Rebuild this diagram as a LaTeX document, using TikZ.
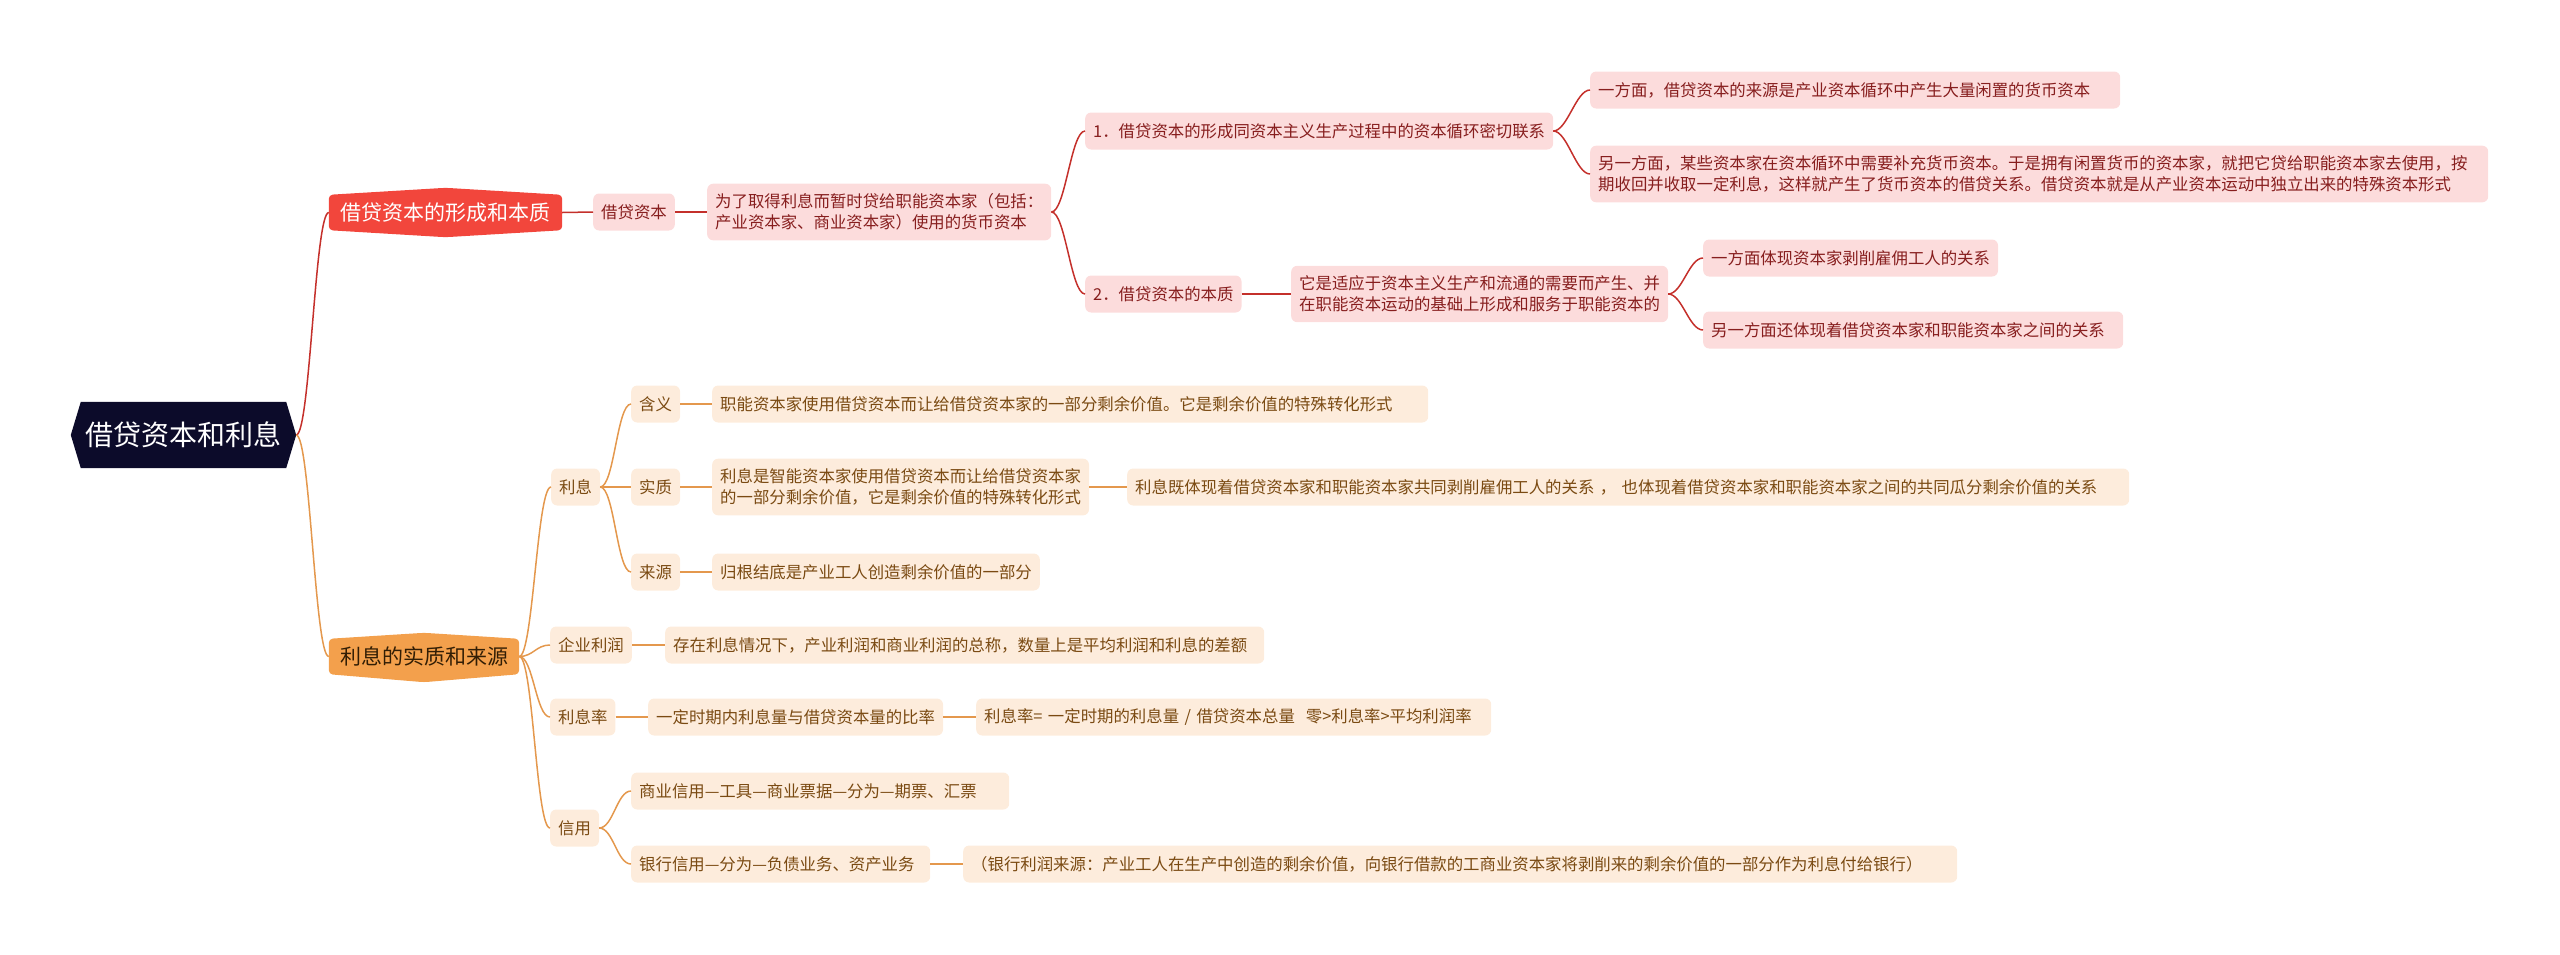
\documentclass[tikz,border=0pt]{standalone}
\usepackage{fontspec}
\setmainfont{Noto Sans CJK SC}
\usetikzlibrary{calc, backgrounds}
\definecolor{RootNavy}{RGB}{12,11,42}
\definecolor{MainRed}{RGB}{242,70,60}
\definecolor{PinkFill}{RGB}{252,220,220}
\definecolor{PinkText}{RGB}{135,30,30}
\definecolor{RedLine}{RGB}{196,48,43}
\definecolor{MainOrange}{RGB}{243,160,76}
\definecolor{OrangeText}{RGB}{50,30,5}
\definecolor{PeachFill}{RGB}{253,236,220}
\definecolor{BrownText}{RGB}{122,74,18}
\definecolor{OrangeLine}{RGB}{228,152,77}

\tikzset{
  rootbox/.style={text=white, font=\fontsize{28}{32}\selectfont, minimum width=225pt, minimum height=66pt, inner sep=0pt},
  mainbox/.style={font=\fontsize{21}{24}\selectfont, minimum height=35pt, inner xsep=0pt, inner ysep=0pt},
  leaf/.style={anchor=west, rounded corners=6pt, font=\fontsize{16.4}{21}\selectfont, align=left, inner xsep=8pt, inner ysep=10pt, minimum height=37pt},
  pinkleaf/.style={leaf, fill=PinkFill, text=PinkText},
  peachleaf/.style={leaf, fill=PeachFill, text=BrownText},
  wide/.style={text width=#1},
  redlink/.style={RedLine, line width=1.5pt},
  orangelink/.style={OrangeLine, line width=1.5pt},
  curvelink/.style={to path={.. controls +(14,0) and +(-14,0) .. (\tikztotarget)}}
}

\begin{document}
\begin{tikzpicture}[x=1pt, y=-1pt]
  \useasboundingbox (0,0) rectangle (2560,954);

  % Root and main topics
  \node[rootbox] (root) at (183.5,435) {借贷资本和利息};
  \node[mainbox, text=white, minimum width=233pt] (form) at (445.5,212.5) {借贷资本的形成和本质};
  \node[mainbox, text=OrangeText, minimum width=190pt] (essence) at (424,656.5) {利息的实质和来源};

  \begin{scope}[on background layer]
    \fill[RootNavy] ($(root.north west)+(10,0)$) -- ($(root.north east)+(-10,0)$) -- (root.east)
      -- ($(root.south east)+(-10,0)$) -- ($(root.south west)+(10,0)$) -- (root.west) -- cycle;
    \fill[MainRed, rounded corners=4pt] (form.north west) -- ($(form.north)+(0,-7)$) -- (form.north east)
      -- (form.south east) -- ($(form.south)+(0,7)$) -- (form.south west) -- cycle;
    \fill[MainOrange, rounded corners=4pt] (essence.north west) -- ($(essence.north)+(0,-6)$) -- (essence.north east)
      -- (essence.south east) -- ($(essence.south)+(0,8)$) -- (essence.south west) -- cycle;
  \end{scope}

  % Formation branch
  \node[pinkleaf] (loan) at (593,212) {借贷资本};
  \node[pinkleaf] (loandef) at (707,212) {为了取得利息而暂时贷给职能资本家（包括：\\产业资本家、商业资本家）使用的货币资本};
  \node[pinkleaf] (point1) at (1085,131) {1．借贷资本的形成同资本主义生产过程中的资本循环密切联系};
  \node[pinkleaf] (point2) at (1085,294) {2．借贷资本的本质};
  \node[pinkleaf, wide=514pt] (source) at (1590,90) {一方面，借贷资本的来源是产业资本循环中产生大量闲置的货币资本};
  \node[pinkleaf, wide=882pt] (demand) at (1590,174) {另一方面，某些资本家在资本循环中需要补充货币资本。于是拥有闲置货币的资本家，就把它贷给职能资本家去使用，按\\期收回并收取一定利息，这样就产生了货币资本的借贷关系。借贷资本就是从产业资本运动中独立出来的特殊资本形式};
  \node[pinkleaf] (adapt) at (1291,294) {它是适应于资本主义生产和流通的需要而产生、并\\在职能资本运动的基础上形成和服务于职能资本的};
  \node[pinkleaf] (exploit) at (1703,258) {一方面体现资本家剥削雇佣工人的关系};
  \node[pinkleaf, wide=404pt] (between) at (1703,330) {另一方面还体现着借贷资本家和职能资本家之间的关系};

  % Interest branch
  \node[peachleaf] (interest) at (551,487) {利息};
  \node[peachleaf] (meaning) at (631,404) {含义};
  \node[peachleaf] (nature) at (631,487) {实质};
  \node[peachleaf] (origin) at (631,572) {来源};
  \node[peachleaf, wide=700pt] (meaningtxt) at (712,404) {职能资本家使用借贷资本而让给借贷资本家的一部分剩余价值。它是剩余价值的特殊转化形式};
  \node[peachleaf] (naturetxt) at (712,487) {利息是智能资本家使用借贷资本而让给借贷资本家\\的一部分剩余价值，它是剩余价值的特殊转化形式};
  \node[peachleaf, wide=986pt] (relation) at (1127,487) {利息既体现着借贷资本家和职能资本家共同剥削雇佣工人的关系 ， 也体现着借贷资本家和职能资本家之间的共同瓜分剩余价值的关系};
  \node[peachleaf] (origintxt) at (712,572) {归根结底是产业工人创造剩余价值的一部分};
  \node[peachleaf] (profit) at (550,645) {企业利润};
  \node[peachleaf, wide=583pt] (profittxt) at (665,645) {存在利息情况下，产业利润和商业利润的总称，数量上是平均利润和利息的差额};
  \node[peachleaf] (rate) at (550,717) {利息率};
  \node[peachleaf] (ratetxt) at (648,717) {一定时期内利息量与借贷资本量的比率};
  \node[peachleaf, wide=499pt] (formula) at (976,717) {利息率= 一定时期的利息量 / 借贷资本总量 \ 零>利息率>平均利润率};
  \node[peachleaf] (credit) at (550,828) {信用};
  \node[peachleaf, wide=362pt] (trade) at (631,791) {商业信用—工具—商业票据—分为—期票、汇票};
  \node[peachleaf, wide=283pt] (bank) at (631,864) {银行信用—分为—负债业务、资产业务};
  \node[peachleaf, wide=978pt] (bankprofit) at (963,864) {（银行利润来源：产业工人在生产中创造的剩余价值，向银行借款的工商业资本家将剥削来的剩余价值的一部分作为利息付给银行）};

  % Connectors
  \draw[redlink] (root.east) to[curvelink] (form.west);
  \draw[redlink] (form.east) -- (loan.west);
  \draw[redlink] (loan.east) -- (loandef.west);
  \draw[redlink] (loandef.east) to[curvelink] (point1.west);
  \draw[redlink] (loandef.east) to[curvelink] (point2.west);
  \draw[redlink] (point1.east) to[curvelink] (source.west);
  \draw[redlink] (point1.east) to[curvelink] (demand.west);
  \draw[redlink] (point2.east) -- (adapt.west);
  \draw[redlink] (adapt.east) to[curvelink] (exploit.west);
  \draw[redlink] (adapt.east) to[curvelink] (between.west);

  \draw[orangelink] (root.east) to[curvelink] (essence.west);
  \draw[orangelink] (essence.east) to[curvelink] (interest.west);
  \draw[orangelink] (essence.east) to[curvelink] (profit.west);
  \draw[orangelink] (essence.east) to[curvelink] (rate.west);
  \draw[orangelink] (essence.east) to[curvelink] (credit.west);
  \draw[orangelink] (interest.east) to[curvelink] (meaning.west);
  \draw[orangelink] (interest.east) -- (nature.west);
  \draw[orangelink] (interest.east) to[curvelink] (origin.west);
  \draw[orangelink] (meaning.east) -- (meaningtxt.west);
  \draw[orangelink] (nature.east) -- (naturetxt.west);
  \draw[orangelink] (naturetxt.east) -- (relation.west);
  \draw[orangelink] (origin.east) -- (origintxt.west);
  \draw[orangelink] (profit.east) -- (profittxt.west);
  \draw[orangelink] (rate.east) -- (ratetxt.west);
  \draw[orangelink] (ratetxt.east) -- (formula.west);
  \draw[orangelink] (credit.east) to[curvelink] (trade.west);
  \draw[orangelink] (credit.east) to[curvelink] (bank.west);
  \draw[orangelink] (bank.east) -- (bankprofit.west);
\end{tikzpicture}
\end{document}
